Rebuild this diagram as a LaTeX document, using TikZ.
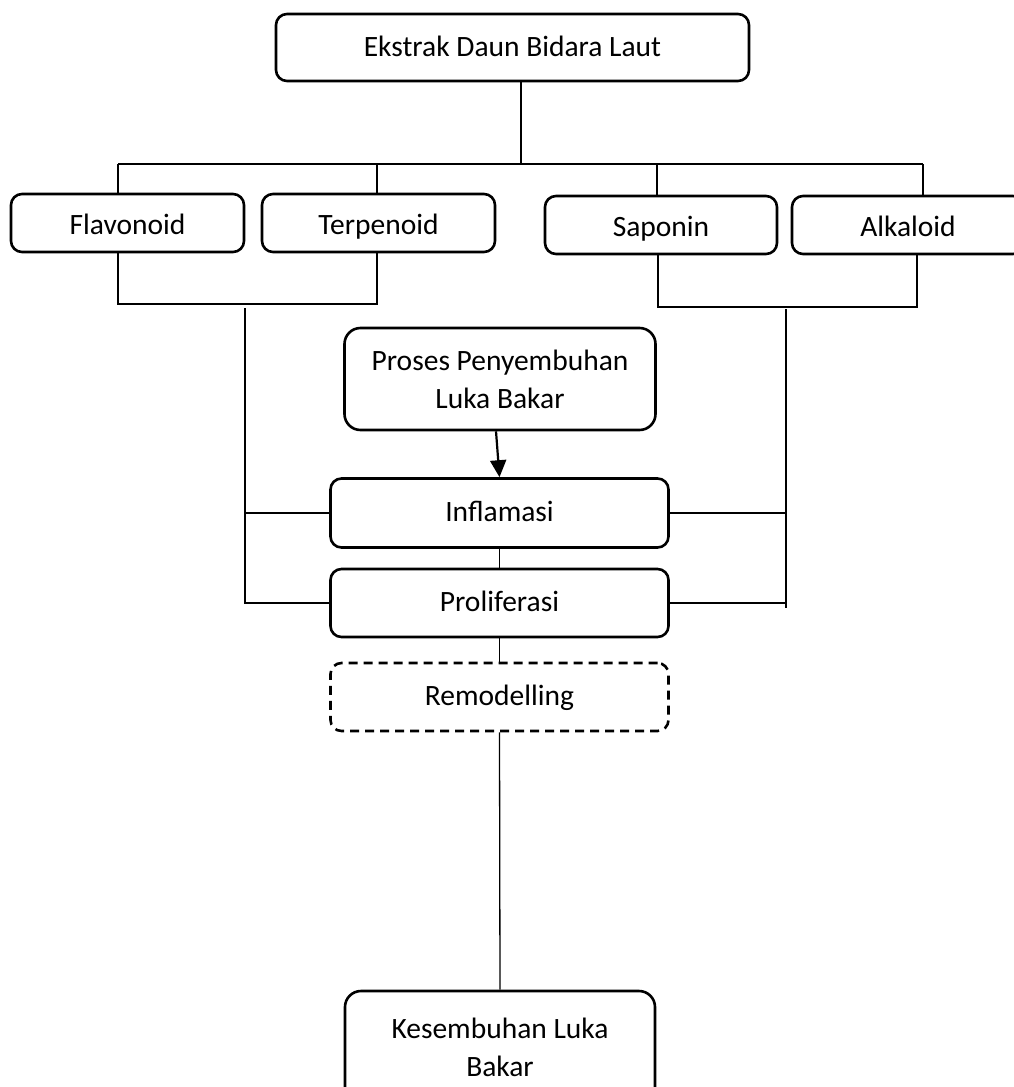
\documentclass[tikz,border=0pt]{standalone}
\usepackage{fontspec}
\setmainfont{Carlito}
\usetikzlibrary{arrows.meta}
\begin{document}
\begin{tikzpicture}[x=1pt,y=-1pt,
  box/.style={draw, line width=2.6pt, rounded corners=11pt, inner sep=0pt, align=center,
    font=\fontsize{29.5}{38}\selectfont},
  onebox/.style={box, text height=21pt, text depth=4pt},
  rowbox/.style={box, text height=26pt, text depth=3pt, minimum height=58pt},
  conn/.style={line width=1.3pt},
  arr/.style={line width=2.2pt, -{Triangle[length=17pt,width=16pt]}},
  dashedbox/.style={onebox, dash pattern=on 9pt off 6pt}
]
\useasboundingbox (0,0) rectangle (1014,1087);
\clip (0,0) rectangle (1014,1087);

\node[onebox, minimum width=473pt, minimum height=67pt] (top) at (512.5,47.5) {Ekstrak Daun Bidara Laut};
\node[rowbox, minimum width=233pt] (fla) at (127.5,223) {Flavonoid};
\node[rowbox, minimum width=233pt] (ter) at (378.5,223) {Terpenoid};
\node[rowbox, minimum width=232pt] (sap) at (661,225) {Saponin};
\node[rowbox, minimum width=232pt] (alk) at (908,225) {Alkaloid};
\node[box, rounded corners=16pt, minimum width=311pt, minimum height=102pt] (pro) at (500,379) {Proses Penyembuhan\\Luka Bakar};
\node[onebox, minimum width=338pt, minimum height=69pt] (inf) at (499.5,513) {Inflamasi};
\node[onebox, minimum width=338pt, minimum height=68pt] (prl) at (499.5,603) {Proliferasi};
\node[dashedbox, minimum width=338pt, minimum height=68pt] (rem) at (499.5,697) {Remodelling};
\node[box, rounded corners=16pt, minimum width=310pt, minimum height=112pt] (kes) at (500,1047) {Kesembuhan Luka\\Bakar};

% bus below the top box
\coordinate (bt) at (521,164);
\coordinate (bL) at (118,164);
\coordinate (bT) at (377,164);
\coordinate (bS) at (657,164);
\coordinate (bR) at (923,164);
\draw[conn] (top.south -| bt) -- (bt);
\draw[conn] (bL) -- (bR);
\draw[conn] (bL) -- (bL |- fla.north);
\draw[conn] (bT) -- (bT |- ter.north);
\draw[conn] (bS) -- (bS |- sap.north);
\draw[conn] (bR) -- (bR |- alk.north);

% lower brackets
\coordinate (lL) at (118,304);
\coordinate (lR) at (377,304);
\draw[conn] (fla.south -| lL) -- (lL) -- (lR) -- (ter.south -| lR);
\coordinate (rL) at (658,307);
\coordinate (rR) at (917,307);
\draw[conn] (sap.south -| rL) -- (rL) -- (rR) -- (alk.south -| rR);

% trunks
\coordinate (tL) at (245,308);
\coordinate (tR) at (786,309);
\coordinate (tRb) at (786,608);
\draw[conn] (tL) -- (tL |- prl.west) -- (prl.west);
\draw[conn] (tL |- inf.west) -- (inf.west);
\draw[conn] (tR) -- (tRb);
\draw[conn] (inf.east) -- (inf.east -| tR);
\draw[conn] (prl.east) -- (prl.east -| tR);

% main chain
\draw[arr] ([xshift=-4pt]pro.south) -- (inf.north);
\draw[conn] (inf.south) -- (prl.north);
\draw[conn] (prl.south) -- (rem.north);
\draw[conn] (rem.south) -- (kes.north);
\end{tikzpicture}
\end{document}
